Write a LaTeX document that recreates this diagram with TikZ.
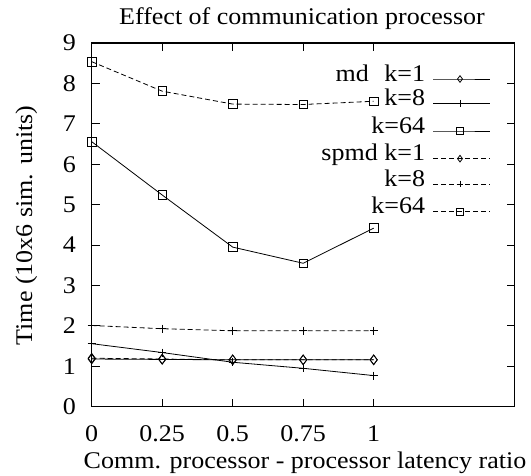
\documentclass[tikz,border=0pt]{standalone}
\usepackage{fontspec}
\setmainfont{Liberation Serif}
\usetikzlibrary{plotmarks}
\newcommand{\tx}[1]{\scalebox{1}[0.92]{#1}}
\begin{document}
\begin{tikzpicture}[x=1pt,y=1pt,
  font=\fontsize{26}{30}\selectfont,
  txt/.style={inner sep=0pt, outer sep=0pt},
  curve/.style={line width=0.8pt, black},
  dsh/.style={dash pattern=on 5pt off 3pt},
  mk/.style={mark options={solid, line width=0.8pt}},
  tick/.style={line width=0.8pt}]
\useasboundingbox (0,0) rectangle (531,476);
% data area
\begin{scope}[shift={(91.7,69.3)}, x=282pt, y=40.4pt]
  \foreach \v in {1,...,8} {
    \draw[tick] (0,\v) -- ++(8pt,0);
    \draw[tick] (1.5,\v) -- ++(-8pt,0);
  }
  \foreach \v in {0.25,0.5,0.75,1} {
    \draw[tick] (\v,0) -- ++(0,8pt);
    \draw[tick] (\v,9) -- ++(0,-8pt);
  }
  \draw[line width=1.2pt] (0,0) rectangle (1.5,9);
  \foreach \v in {0,...,9}
    \node[txt, anchor=east] (yl\v) at ([xshift=-15.7pt]0,\v) {\tx{\v}};
  \foreach \v/\n in {0/a,0.25/b,0.5/c,0.75/d,1/e}
    \node[txt] (xl\n) at ([yshift=-27.3pt]\v,0) {\tx{\v}};
  % md k=1
  \draw[curve] plot[mark=diamond, mark size=4.8pt, mk] coordinates
    {(0,1.18) (0.25,1.17) (0.5,1.16) (0.75,1.16) (1,1.16)};
  % md k=8
  \draw[curve] plot[mark=+, mark size=4pt, mk] coordinates
    {(0,1.56) (0.25,1.34) (0.5,1.10) (0.75,0.95) (1,0.77)};
  % md k=64
  \draw[curve] plot[mark=square, mark size=4.3pt, mk] coordinates
    {(0,6.56) (0.25,5.24) (0.5,3.95) (0.75,3.55) (1,4.42)};
  % spmd k=1
  \draw[curve, dsh] plot[mark=diamond, mark size=4.8pt, mk] coordinates
    {(0,1.20) (0.25,1.18) (0.5,1.16) (0.75,1.16) (1,1.16)};
  % spmd k=8
  \draw[curve, dsh] plot[mark=+, mark size=4pt, mk] coordinates
    {(0,2.01) (0.25,1.93) (0.5,1.88) (0.75,1.88) (1,1.88)};
  % spmd k=64
  \draw[curve, dsh] plot[mark=square, mark size=4.3pt, mk] coordinates
    {(0,8.54) (0.25,7.81) (0.5,7.49) (0.75,7.48) (1,7.56)};
\end{scope}
% legend
\foreach \y/\t/\m/\s/\n in {
  397/{md\hspace{15.5pt}k=1}/diamond/solid/r1,
  372.7/{k=8}/+/solid/r2,
  345/{k=64}/square/solid/r3,
  317.3/{spmd k=1}/diamond/dsh/r4,
  292/{k=8}/+/dsh/r5,
  264.3/{k=64}/square/dsh/r6} {
  \node[txt, anchor=mid east] (\n) at (425,\y) {\tx{\t}};
  \draw[curve, \s] plot[mark=\m, mark size=3.3pt, mark indices={2}, mk]
    coordinates {(433,\y) (460,\y) (490,\y)};
}
% titles
\node[txt, anchor=base] (title) at (302,451) {\tx{Effect of communication processor}};
\node[txt, anchor=base] (xlab) at (305,7.7) {\tx{Comm. processor - processor latency ratio}};
\node[txt, anchor=base, rotate=90] (ylab) at (32,250.5) {\tx{Time (10x6 sim. units)}};
\end{tikzpicture}
\end{document}
